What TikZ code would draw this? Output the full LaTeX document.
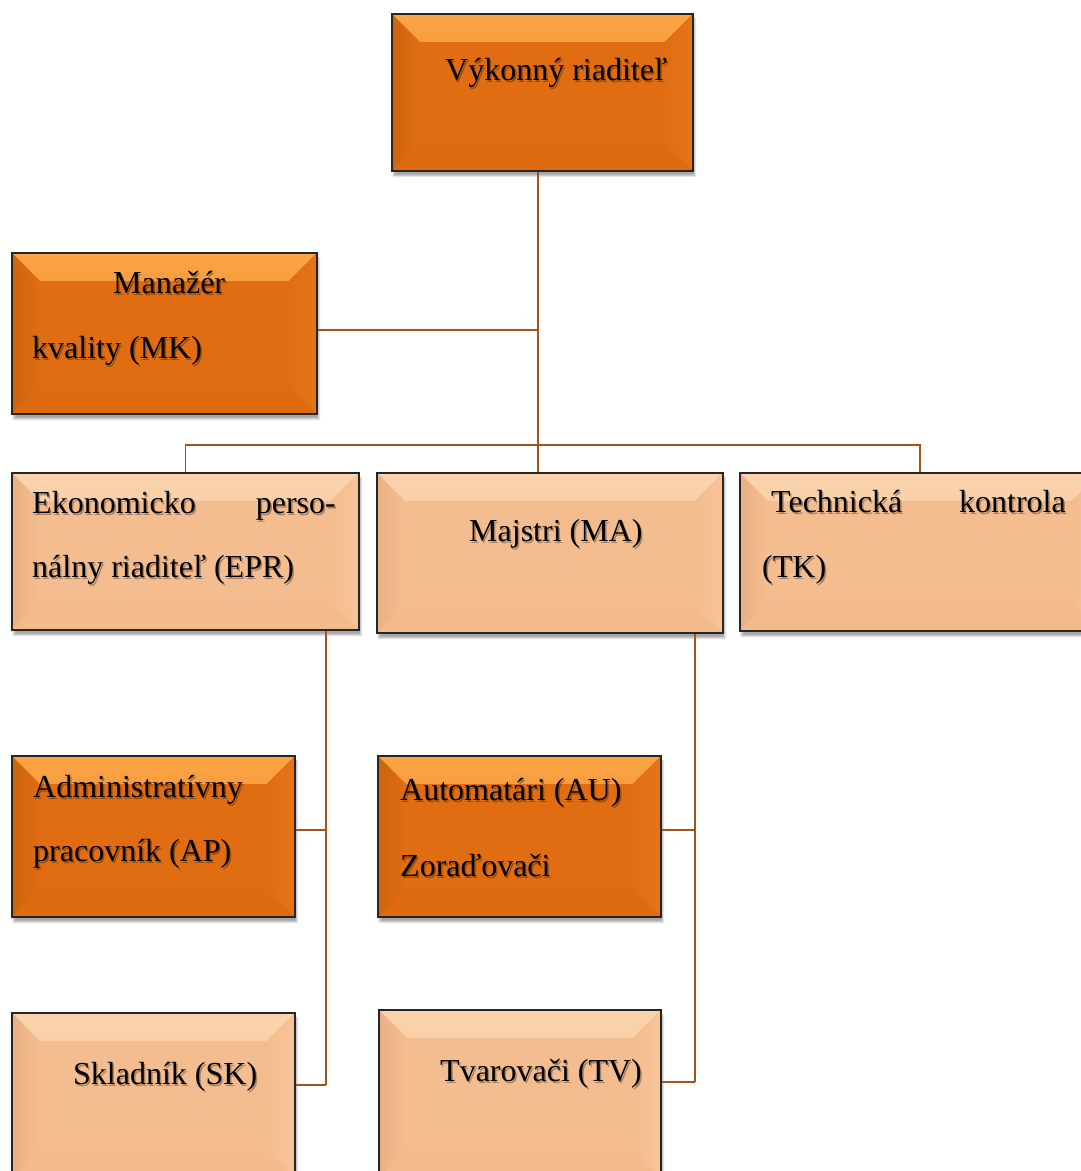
\documentclass[tikz,border=0pt]{standalone}
\usepackage{fontspec}
\setmainfont{Liberation Serif}
\usetikzlibrary{shadows.blur,calc}

% palette
\definecolor{dkbody}{HTML}{E06D12}
\definecolor{dktopA}{HTML}{FBA446}
\definecolor{dktopB}{HTML}{E9801F}
\definecolor{dkleft}{HTML}{CC640F}
\definecolor{dkright}{HTML}{E57517}
\definecolor{dkbottom}{HTML}{DE6B10}
\definecolor{ltbody}{HTML}{F4BD8F}
\definecolor{lttopA}{HTML}{FAD3AC}
\definecolor{lttopB}{HTML}{F6C399}
\definecolor{ltleft}{HTML}{EAB085}
\definecolor{ltright}{HTML}{F6C398}
\definecolor{ltbottom}{HTML}{F3BB8C}
\definecolor{connbrown}{HTML}{A3541C}

% bevelled faces: #1 top edge, #2 top inner, #3 left edge, #4 right, #5 bottom, #6 body
\newcommand\bevelfaces[6]{%
  \shade[top color=#1, bottom color=#2]
    (path picture bounding box.north west) -- (path picture bounding box.north east)
    -- ([shift={(-28pt,-28pt)}]path picture bounding box.north east)
    -- ([shift={(28pt,-28pt)}]path picture bounding box.north west) -- cycle;
  \shade[left color=#3, right color=#6]
    (path picture bounding box.north west) -- (path picture bounding box.south west)
    -- ([shift={(28pt,28pt)}]path picture bounding box.south west)
    -- ([shift={(28pt,-28pt)}]path picture bounding box.north west) -- cycle;
  \shade[left color=#6, right color=#4]
    (path picture bounding box.north east) -- (path picture bounding box.south east)
    -- ([shift={(-28pt,28pt)}]path picture bounding box.south east)
    -- ([shift={(-28pt,-28pt)}]path picture bounding box.north east) -- cycle;
  \fill[#5]
    (path picture bounding box.south west) -- (path picture bounding box.south east)
    -- ([shift={(-28pt,28pt)}]path picture bounding box.south east)
    -- ([shift={(28pt,28pt)}]path picture bounding box.south west) -- cycle;
}

\tikzset{
  orgbox/.style={rectangle, anchor=north west, inner sep=0pt,
    draw=black!85, line width=1.8pt,
    blur shadow={shadow xshift=2pt, shadow yshift=-5pt, shadow blur steps=6,
      shadow opacity=35, shadow blur extra rounding=0pt}},
  darkbox/.style={orgbox, fill=dkbody,
    path picture={\bevelfaces{dktopA}{dktopB}{dkleft}{dkright}{dkbottom}{dkbody}}},
  lightbox/.style={orgbox, fill=ltbody,
    path picture={\bevelfaces{lttopA}{lttopB}{ltleft}{ltright}{ltbottom}{ltbody}}},
  boxtext/.style={inner sep=0pt, font=\fontsize{32}{38}\selectfont, text=black},
  boxtextshadow/.style={boxtext, opacity=0.3},
  conn/.style={draw=connbrown, line width=1.5pt}
}

% label with a soft drop shadow: name, x, y, anchor, text
\newcommand\shadowedlabel[5]{%
  \node[boxtextshadow, anchor=#4] (#1-sh) at ([shift={(1.5pt,-2.5pt)}]#2,#3) {#5};
  \node[boxtext, anchor=#4] (#1) at (#2,#3) {#5};
}

\begin{document}
\begin{tikzpicture}[x=1pt, y=-1pt]
  \useasboundingbox (0,0) rectangle (1081,1171);
  \clip (0,0) rectangle (1081,1171);

  % connector routing points
  \coordinate (spine) at (538,0);
  \coordinate (mkjoin) at (538,330);
  \coordinate (bus) at (0,445);
  \coordinate (eprdrop) at (326,0);
  \coordinate (madrop) at (695,0);
  \coordinate (apjoin) at (326,830);
  \coordinate (skjoin) at (326,1085);
  \coordinate (aujoin) at (695,830);
  \coordinate (tvjoin) at (695,1082);

  % boxes
  \node[darkbox,  minimum width=301pt, minimum height=157pt] (vr)  at (391,13)   {};
  \node[darkbox,  minimum width=305pt, minimum height=161pt] (mk)  at (11,252)   {};
  \node[lightbox, minimum width=347pt, minimum height=157pt] (epr) at (11,472)   {};
  \node[lightbox, minimum width=346pt, minimum height=160pt] (ma)  at (376,472)  {};
  \node[lightbox, minimum width=360pt, minimum height=158pt] (tk)  at (739,472)  {};
  \node[darkbox,  minimum width=283pt, minimum height=161pt] (ap)  at (11,755)   {};
  \node[darkbox,  minimum width=283pt, minimum height=161pt] (au)  at (377,755)  {};
  \node[lightbox, minimum width=283pt, minimum height=165pt] (sk)  at (11,1012)  {};
  \node[lightbox, minimum width=282pt, minimum height=168pt] (tv)  at (378,1009) {};

  % connectors
  \draw[conn] (vr.south -| spine) -- (ma.north -| spine);
  \draw[conn] (mkjoin -| mk.east) -- (mkjoin);
  \draw[conn] (epr.north) -- (epr.north |- bus) -- (tk.north |- bus) -- (tk.north);
  \draw[conn] (epr.south -| eprdrop) -- (skjoin);
  \draw[conn] (apjoin) -- (apjoin -| ap.east);
  \draw[conn] (skjoin) -- (skjoin -| sk.east);
  \draw[conn] (ma.south -| madrop) -- (tvjoin);
  \draw[conn] (aujoin) -- (aujoin -| au.east);
  \draw[conn] (tvjoin) -- (tvjoin -| tv.east);

  % labels
  \shadowedlabel{vrT}{445}{80}{base west}{Výkonný riaditeľ}
  \shadowedlabel{mkTa}{113}{293}{base west}{Manažér}
  \shadowedlabel{mkTb}{32}{358}{base west}{kvality (MK)}
  \shadowedlabel{eprTa}{32}{513}{base west}{Ekonomicko}
  \shadowedlabel{eprTb}{336}{513}{base east}{perso-}
  \shadowedlabel{eprTc}{32}{577}{base west}{nálny riaditeľ (EPR)}
  \shadowedlabel{maT}{469}{541}{base west}{Majstri (MA)}
  \shadowedlabel{tkTa}{771}{512}{base west}{Technická}
  \shadowedlabel{tkTb}{1066}{512}{base east}{kontrola}
  \shadowedlabel{tkTc}{762}{577}{base west}{(TK)}
  \shadowedlabel{apTa}{33}{797}{base west}{Administratívny}
  \shadowedlabel{apTb}{33}{861}{base west}{pracovník (AP)}
  \shadowedlabel{auTa}{400}{800}{base west}{Automatári (AU)}
  \shadowedlabel{auTb}{400}{876}{base west}{Zoraďovači}
  \shadowedlabel{skT}{73}{1084}{base west}{Skladník (SK)}
  \shadowedlabel{tvT}{440}{1081}{base west}{Tvarovači (TV)}
\end{tikzpicture}
\end{document}
